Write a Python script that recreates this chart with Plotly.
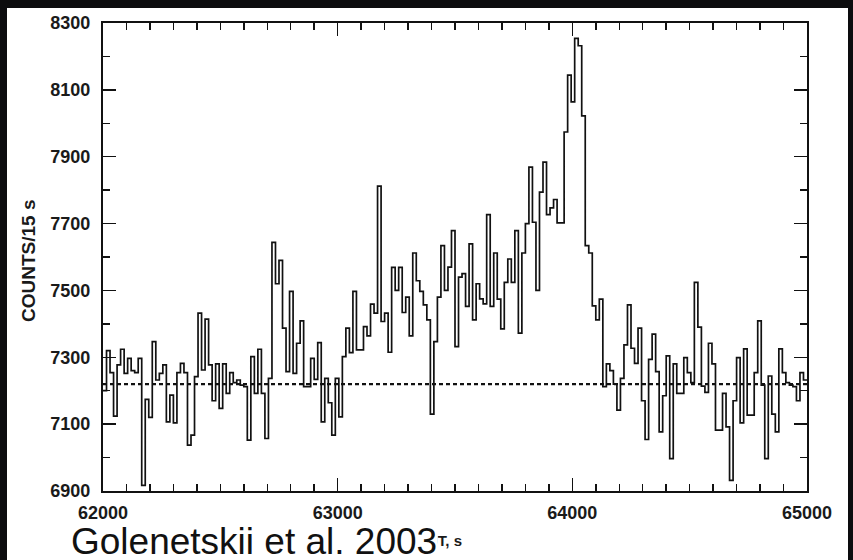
import plotly.graph_objects as go
import numpy as np

# ---- data ----
bin_start = 62000          # s (UT)
bin_width = 15             # s
background_level = 7220    # counts / 15 s (dashed line)

counts = [
    7200, 7320, 7254, 7124, 7277, 7324, 7252, 7297, 7260, 7254,
    7297, 6917, 7174, 7120, 7347, 7232, 7252, 7277, 7107, 7187,
    7104, 7254, 7282, 7254, 7037, 7067, 7242, 7432, 7262, 7414,
    7277, 7170, 7280, 7147, 7280, 7192, 7254, 7224, 7232, 7217,
    7212, 7052, 7302, 7192, 7324, 7192, 7057, 7237, 7644, 7520,
    7590, 7387, 7257, 7497, 7252, 7342, 7409, 7212, 7212, 7297,
    7234, 7344, 7107, 7237, 7164, 7067, 7237, 7122, 7302, 7387,
    7314, 7497, 7322, 7322, 7392, 7364, 7459, 7432, 7812, 7407,
    7432, 7315, 7569, 7500, 7569, 7434, 7480, 7364, 7612, 7529,
    7497, 7457, 7412, 7130, 7347, 7480, 7634, 7500, 7570, 7679,
    7332, 7540, 7550, 7452, 7639, 7412, 7520, 7475, 7460, 7727,
    7452, 7612, 7474, 7385, 7524, 7594, 7524, 7679, 7372, 7612,
    7700, 7869, 7704, 7500, 7794, 7884, 7727, 7747, 7772, 7702,
    7702, 7974, 8144, 8064, 8254, 8232, 8022, 7634, 7612, 7454,
    7412, 7474, 7212, 7280, 7260, 7220, 7142, 7237, 7337, 7457,
    7327, 7282, 7387, 7170, 7054, 7294, 7369, 7257, 7077, 7185,
    7304, 6997, 7280, 7192, 7192, 7299, 7254, 7224, 7524, 7390,
    7214, 7195, 7342, 7280, 7082, 7082, 7192, 7092, 6932, 7170,
    7299, 7104, 7325, 7127, 7127, 7254, 7409, 7217, 6997, 7244,
    7130, 7077, 7325, 7254, 7224, 7217, 7212, 7170, 7254, 7232,
]

x_range = [62000, 65000]
y_range = [6900, 8300]
x_tick_labels = ["62000", "63000", "64000", "65000"]
y_tick_labels = ["6900", "7100", "7300", "7500", "7700", "7900", "8100", "8300"]

y_title = "COUNTS/15 s"
x_title = "UT, s"
credit = "Golenetskii et al. 2003"

# ---- figure ----
W, H = 853, 560
L, R, T, B = 103, 46, 23, 69
pw, ph = W - L - R, H - T - B

def px(xp):  # pixel x -> paper x
    return (xp - L) / pw

def py(yp):  # pixel y -> paper y
    return (H - B - yp) / ph

edges = bin_start + bin_width * np.arange(len(counts) + 1)
step_y = counts + [counts[-1]]

fig = go.Figure()
fig.add_trace(go.Scatter(
    x=edges, y=step_y, mode="lines",
    line=dict(shape="hv", color="#111111", width=1.7),
    hoverinfo="skip", showlegend=False,
))
fig.add_trace(go.Scatter(
    x=x_range, y=[background_level, background_level], mode="lines",
    line=dict(color="#111111", width=2.2, dash="4px,3px"),
    hoverinfo="skip", showlegend=False,
))

FONT = "Liberation Sans, Arial, sans-serif"
tickfont = dict(family=FONT, size=18, color="#1a1a1a", weight=700)

fig.update_xaxes(
    range=x_range, showgrid=False, zeroline=False,
    tickmode="array", tickvals=[float(v) for v in x_tick_labels], ticktext=x_tick_labels,
    ticks="inside", ticklen=13, tickwidth=1.5, tickcolor="#111111",
    minor=dict(dtick=100, tick0=62000, ticks="inside", ticklen=7, tickwidth=1.5, tickcolor="#111111"),
    showline=True, linewidth=2.2, linecolor="#111111", mirror="allticks",
    tickfont=tickfont, ticklabelstandoff=4,
)
fig.update_yaxes(
    range=y_range, showgrid=False, zeroline=False,
    tickmode="array", tickvals=[float(v) for v in y_tick_labels], ticktext=y_tick_labels,
    ticks="inside", ticklen=13, tickwidth=1.5, tickcolor="#111111",
    minor=dict(dtick=100, tick0=6900, ticks="inside", ticklen=7, tickwidth=1.5, tickcolor="#111111"),
    showline=True, linewidth=2.2, linecolor="#111111", mirror="allticks",
    tickfont=tickfont, ticklabelstandoff=7,
)

fig.add_shape(type="rect", xref="paper", yref="paper",
              x0=px(7), x1=px(848), y0=py(562), y1=py(8),
              fillcolor="white", line=dict(width=0), layer="below")

fig.add_annotation(text=y_title, xref="paper", yref="paper",
                   x=px(28), y=py(261), textangle=-90, showarrow=False,
                   xanchor="center", yanchor="middle",
                   font=dict(family=FONT, size=19, color="#1a1a1a", weight=700))
fig.add_annotation(text=x_title, xref="paper", yref="paper",
                   x=px(425), y=py(540), showarrow=False,
                   xanchor="left", yanchor="middle",
                   font=dict(family=FONT, size=15, color="#1a1a1a", weight=700))
fig.add_annotation(text=credit, xref="paper", yref="paper",
                   x=px(70), y=py(541), showarrow=False,
                   xanchor="left", yanchor="middle", bgcolor="white", borderpad=0,
                   font=dict(family=FONT, size=37, color="#111111"))

fig.update_layout(
    width=W, height=H,
    margin=dict(l=L, r=R, t=T, b=B, pad=0),
    paper_bgcolor="#0c0c0e", plot_bgcolor="white",
    showlegend=False,
)

fig.write_html(
    "out.html",
    config={"displayModeBar": False, "staticPlot": True},
    post_script="document.body.style.margin='0';document.body.style.padding='0';document.body.style.overflow='hidden';",
)
